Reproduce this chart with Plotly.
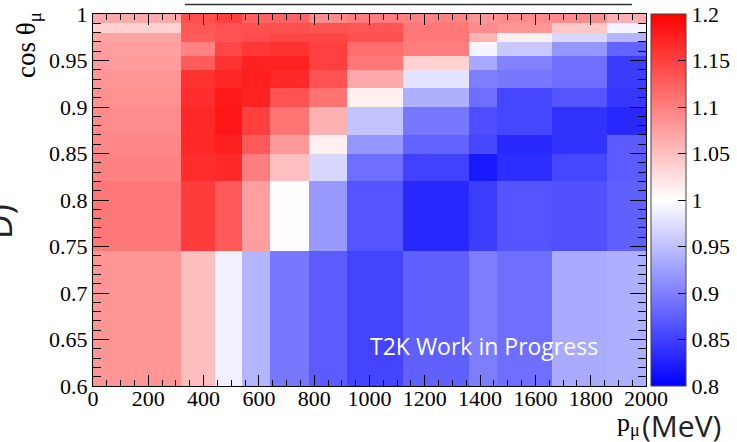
import plotly.graph_objects as go

# Momentum bin edges (MeV) and cos(theta) bin edges
p_edges = [0, 320, 440, 540, 640, 780, 920, 1120, 1360, 1460, 1660, 1860, 2000]
cos_edges = [0.6, 0.745, 0.82, 0.85, 0.87, 0.90, 0.92, 0.94, 0.955, 0.97, 0.98, 0.99, 1.0]

# Ratio in each cos(theta) slice, listed over the momentum bins
r_0600_0745 = [1.082, 1.051, 0.988, 0.941, 0.894, 0.871, 0.853, 0.875, 0.898, 0.886, 0.933, 0.937]
r_0745_0820 = [1.106, 1.153, 1.130, 1.075, 1.002, 0.920, 0.867, 0.831, 0.849, 0.867, 0.863, 0.875]
r_0820_0850 = [1.098, 1.165, 1.168, 1.100, 1.050, 0.969, 0.886, 0.851, 0.820, 0.835, 0.855, 0.871]
r_0850_0870 = [1.094, 1.169, 1.175, 1.130, 1.080, 1.012, 0.918, 0.878, 0.855, 0.831, 0.839, 0.871]
r_0870_0900 = [1.090, 1.169, 1.182, 1.150, 1.110, 1.060, 0.953, 0.894, 0.861, 0.855, 0.839, 0.831]
r_0900_0920 = [1.086, 1.165, 1.180, 1.173, 1.135, 1.110, 1.012, 0.937, 0.886, 0.855, 0.867, 0.843]
r_0920_0940 = [1.082, 1.161, 1.170, 1.176, 1.169, 1.135, 1.067, 0.979, 0.898, 0.894, 0.886, 0.847]
r_0940_0955 = [1.078, 1.129, 1.160, 1.173, 1.173, 1.150, 1.106, 1.035, 0.932, 0.902, 0.886, 0.847]
r_0955_0970 = [1.075, 1.098, 1.145, 1.157, 1.161, 1.150, 1.114, 1.102, 0.992, 0.957, 0.918, 0.878]
r_0970_0980 = [1.071, 1.129, 1.135, 1.141, 1.145, 1.145, 1.137, 1.106, 1.059, 1.012, 0.969, 0.941]
r_0980_0990 = [1.035, 1.133, 1.135, 1.137, 1.137, 1.135, 1.133, 1.106, 1.090, 1.082, 1.043, 0.992]
r_0990_1000 = [1.067, 1.137, 1.150, 1.125, 1.122, 1.090, 1.102, 1.098, 1.082, 1.090, 1.090, 1.063]

ratio_rows = [r_0600_0745, r_0745_0820, r_0820_0850, r_0850_0870, r_0870_0900,
              r_0900_0920, r_0920_0940, r_0940_0955, r_0955_0970, r_0970_0980,
              r_0980_0990, r_0990_1000]

# Tick labels
x_tickvals = [0, 200, 400, 600, 800, 1000, 1200, 1400, 1600, 1800, 2000]
x_ticktext = ["0", "200", "400", "600", "800", "1000", "1200", "1400", "1600", "1800", "2000"]
y_tickvals = [0.6, 0.65, 0.7, 0.75, 0.8, 0.85, 0.9, 0.95, 1.0]
y_ticktext = ["0.6", "0.65", "0.7", "0.75", "0.8", "0.85", "0.9", "0.95", "1"]
cb_tickvals = [0.8, 0.85, 0.9, 0.95, 1.0, 1.05, 1.1, 1.15, 1.2]
cb_ticktext = ["0.8", "0.85", "0.9", "0.95", "1", "1.05", "1.1", "1.15", "1.2"]

W, H = 737, 442
ML, MR, MT, MB = 93, 91, 14, 56
PW, PH = W - ML - MR, H - MT - MB


def px_x(px):
    return (px - ML) / PW


def px_y(py):
    return (H - MB - py) / PH


serif = "Liberation Serif"
sans = "Open Sans"

fig = go.Figure(go.Heatmap(
    x=p_edges,
    y=cos_edges,
    z=ratio_rows,
    zmin=0.8,
    zmax=1.2,
    colorscale=[[0.0, "rgb(0,0,255)"], [0.5, "rgb(255,255,255)"], [1.0, "rgb(255,0,0)"]],
    colorbar=dict(
        thickness=35, thicknessmode="pixels",
        len=1, lenmode="fraction",
        x=px_x(651), xref="paper", xanchor="left", xpad=0,
        y=0.5, yref="paper", yanchor="middle", ypad=0,
        tickmode="array", tickvals=cb_tickvals, ticktext=cb_ticktext,
        ticks="inside", ticklen=8, tickcolor="black", tickwidth=1,
        outlinewidth=1, outlinecolor="#444",
        tickfont=dict(family=serif, size=22, color="black"),
    ),
    hoverinfo="skip",
))

axis_common = dict(
    showgrid=False, zeroline=False,
    showline=True, linecolor="black", linewidth=1, mirror="ticks",
    ticks="inside", tickcolor="black", tickwidth=1,
    tickfont=dict(family=serif, size=22, color="black"),
)

fig.update_layout(
    width=W, height=H,
    margin=dict(l=ML, r=MR, t=MT, b=MB, autoexpand=False),
    paper_bgcolor="white", plot_bgcolor="white",
    xaxis=dict(
        range=[0, 2000], tickmode="array", tickvals=x_tickvals, ticktext=x_ticktext,
        ticklen=11, ticklabelstandoff=-7,
        minor=dict(ticks="inside", ticklen=6, tickmode="linear", tick0=0, dtick=50,
                   tickcolor="black", tickwidth=1),
        **axis_common,
    ),
    yaxis=dict(
        range=[0.6, 1.0], tickmode="array", tickvals=y_tickvals, ticktext=y_ticktext,
        ticklen=16,
        minor=dict(ticks="inside", ticklen=8, tickmode="linear", tick0=0.6, dtick=0.01,
                   tickcolor="black", tickwidth=1),
        **axis_common,
    ),
    annotations=[
        dict(text="T2K Work in Progress", x=1414, y=0.643, xref="x", yref="y",
             xanchor="center", yanchor="middle",
             showarrow=False, font=dict(family=sans, size=23, color="white")),
        dict(text="cos θ<sub>μ</sub>", x=px_x(28), y=px_y(45), xref="paper", yref="paper",
             xanchor="center", yanchor="middle",
             textangle=-90, showarrow=False,
             font=dict(family=serif, size=27, color="black")),
        dict(text="p<sub>μ</sub>", x=px_x(642), y=px_y(424), xref="paper", yref="paper",
             xanchor="right", yanchor="middle", showarrow=False,
             font=dict(family=serif, size=26, color="black")),
        dict(text="(MeV)", x=px_x(723), y=px_y(426), xref="paper", yref="paper",
             xanchor="right", yanchor="middle", showarrow=False,
             font=dict(family=sans, size=30, color="#222")),
        dict(text="D)", x=px_x(-1), y=px_y(222), xref="paper", yref="paper",
             xanchor="center", yanchor="middle",
             textangle=-90, showarrow=False,
             font=dict(family=sans, size=34, color="#222")),
    ],
    shapes=[
        dict(type="line", xref="paper", yref="paper",
             x0=px_x(185), x1=px_x(632), y0=px_y(4.5), y1=px_y(4.5),
             line=dict(color="#333", width=1.5)),
    ],
)

fig.write_html("out.html")
